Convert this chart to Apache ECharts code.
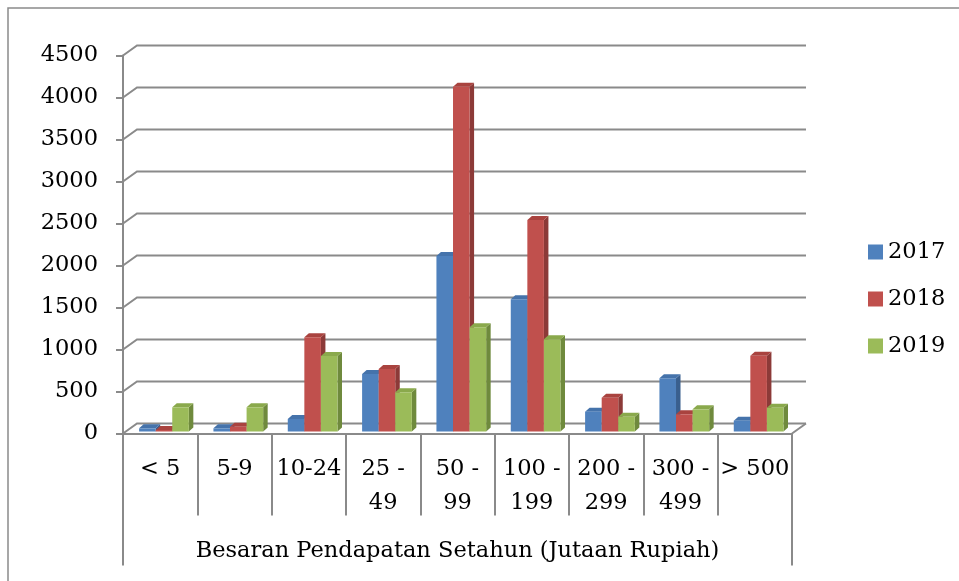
<!DOCTYPE html>
<html>
<head>
<meta charset="utf-8">
<script src="https://cdn.jsdelivr.net/npm/echarts@6/dist/echarts.min.js"></script>
<style>
  html, body { margin: 0; padding: 0; background: #fff; }
  #chart { width: 959px; height: 581px; }
</style>
</head>
<body>
<div id="chart"></div>
<script>
// income classes (juta rupiah)
var categories = ['< 5', '5-9', '10-24', '25 -\n49', '50 -\n99', '100 -\n199', '200 -\n299', '300 -\n499', '> 500'];
var years = ['2017', '2018', '2019'];
var data2017 = [38, 38, 149, 685, 2089, 1574, 236, 633, 129];
var data2018 = [18, 57, 1121, 744, 4105, 2518, 402, 205, 902];
var data2019 = [288, 288, 899, 467, 1240, 1098, 176, 264, 283];
var yTicks = [0, 500, 1000, 1500, 2000, 2500, 3000, 3500, 4000, 4500];

var gridColor = '#8a8a8a';
var wallDX = 14, wallDY = -10;   // back wall offset
var barDX = 3.8, barDY = -2;     // bar front plane offset
var depthDX = 4.5, depthDY = -4; // bar depth
var fontFam = 'DejaVu Serif';
var fs = 22.5;

var palette = [
    { front: '#4f81bd', side: '#395f8e', top: '#4573ab' },
    { front: '#c0504d', side: '#8c3a38', top: '#a9433f' },
    { front: '#9bbb59', side: '#6f8a3d', top: '#8aa94c' }
];

var chart = echarts.init(document.getElementById('chart'));

function wallRender(params, api) {
    var cs = params.coordSys;
    var v = api.value(0);
    var p = api.coord([0, v]);
    var y = p[1];
    var xl = cs.x, xr = cs.x + cs.width;
    var children = [{
        type: 'polyline',
        shape: { points: [[xl, y], [xl + wallDX, y + wallDY], [xr + wallDX, y + wallDY]] },
        style: { stroke: gridColor, lineWidth: 2, fill: null }
    }];
    if (v === 0) {
        children.push({
            type: 'line',
            shape: { x1: xr, y1: y, x2: xr + wallDX, y2: y + wallDY },
            style: { stroke: gridColor, lineWidth: 2 }
        });
        // outer table borders under the axis
        children.push({
            type: 'line',
            shape: { x1: xl, y1: y, x2: xl, y2: y + 132 },
            style: { stroke: gridColor, lineWidth: 2 }
        });
        children.push({
            type: 'line',
            shape: { x1: xr, y1: y, x2: xr, y2: y + 132 },
            style: { stroke: gridColor, lineWidth: 2 }
        });
    }
    return { type: 'group', children: children };
}

function barRender(si) {
    return function (params, api) {
        var ci = api.value(0);
        var v = api.value(1);
        var base = api.coord([ci, 0]);
        var top = api.coord([ci, v]);
        var slot = api.size([1, 0])[0];
        var bw = slot * 0.223;
        var x0 = base[0] - 1.5 * bw + si * bw + barDX;
        var x1 = x0 + bw;
        var yb = base[1] + barDY;
        var yt = top[1] + barDY;
        var c = palette[si];
        return {
            type: 'group',
            children: [
                {
                    type: 'polygon',
                    shape: { points: [[x1, yt], [x1 + depthDX, yt + depthDY], [x1 + depthDX, yb + depthDY], [x1, yb]] },
                    style: { fill: c.side }
                },
                {
                    type: 'polygon',
                    shape: { points: [[x0, yt], [x1, yt], [x1 + depthDX, yt + depthDY], [x0 + depthDX, yt + depthDY]] },
                    style: { fill: c.top }
                },
                {
                    type: 'rect',
                    shape: { x: x0, y: yt, width: bw, height: yb - yt },
                    style: { fill: c.front }
                }
            ]
        };
    };
}

var seriesData = [data2017, data2018, data2019];
var series = [{
    type: 'custom',
    name: 'wall',
    renderItem: wallRender,
    data: yTicks.map(function (t) { return [t]; }),
    encode: { y: 0 },
    silent: true,
    z: 1
}];
for (var s = 0; s < years.length; s++) {
    series.push({
        type: 'custom',
        name: years[s],
        renderItem: barRender(s),
        itemStyle: { color: palette[s].front },
        data: seriesData[s].map(function (v, i) { return [i, v]; }),
        encode: { x: 0, y: 1 },
        z: 2 + s
    });
}

var option = {
    animation: false,
    textStyle: { fontFamily: fontFam },
    grid: { left: 123, right: 167, top: 55.5, bottom: 147.5 },
    legend: {
        data: years,
        orient: 'vertical',
        left: 863,
        top: 234,
        icon: 'rect',
        itemWidth: 15,
        itemHeight: 15,
        itemGap: 21,
        textStyle: { fontFamily: fontFam, fontSize: fs, color: '#000', lineHeight: 26 }
    },
    graphic: [{
        type: 'rect',
        shape: { x: 8, y: 8, width: 1000, height: 1000 },
        style: { fill: null, stroke: '#8a8a8a', lineWidth: 1.5 },
        silent: true
    }],
    xAxis: {
        type: 'category',
        data: categories,
        axisLine: { show: true, lineStyle: { color: gridColor, width: 2 } },
        axisTick: { show: true, length: 82, interval: 0, lineStyle: { color: gridColor, width: 2 } },
        axisLabel: { interval: 0, margin: 19, fontSize: fs, lineHeight: 34, color: '#000', fontFamily: fontFam },
        name: 'Besaran Pendapatan Setahun (Jutaan Rupiah)',
        nameLocation: 'middle',
        nameGap: 106,
        nameTextStyle: { fontSize: fs, color: '#000', fontFamily: fontFam }
    },
    yAxis: {
        type: 'value',
        min: 0,
        max: 4500,
        interval: 500,
        axisLine: { show: true, lineStyle: { color: gridColor, width: 2 } },
        axisTick: { show: true, length: 7, lineStyle: { color: gridColor, width: 2 } },
        splitLine: { show: false },
        axisLabel: { margin: 25, fontSize: fs, color: '#000', fontFamily: fontFam, formatter: function (v) { return String(v); } }
    },
    series: series
};
chart.setOption(option);
</script>
</body>
</html>
